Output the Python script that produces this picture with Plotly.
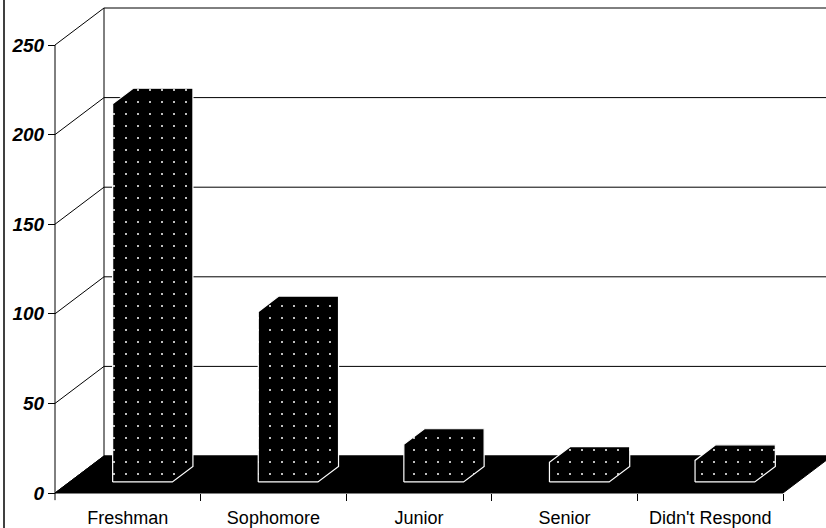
import plotly.graph_objects as go

# ---- data -------------------------------------------------------------
categories = ["Freshman", "Sophomore", "Junior", "Senior", "Didn't Respond"]
counts = [211, 95, 21, 11, 12]
y_ticks = [0, 50, 100, 150, 200, 250]

# ---- frame geometry (oblique 3-D projection) ---------------------------
W, H = 826, 528
PX_PER_CAT = 145.6      # horizontal pixels per category slot
PX_PER_UNIT = 1.792     # vertical pixels per count
X_LEFT_PX = 55          # front-left corner of the floor
Y_ZERO_PX = 493         # front baseline (count 0)
DEPTH_DX_PX, DEPTH_DY_PX = 49, 37

x_min = -0.5 - X_LEFT_PX / PX_PER_CAT
x_max = x_min + W / PX_PER_CAT
y_min = -(H - Y_ZERO_PX) / PX_PER_UNIT
y_max = Y_ZERO_PX / PX_PER_UNIT

DX = DEPTH_DX_PX / PX_PER_CAT     # full depth shift, category units
DY = DEPTH_DY_PX / PX_PER_UNIT    # full depth shift, count units

BAR_W = 0.41            # bar width as fraction of a slot
F_FRONT, F_BACK = 0.30, 0.72      # bar depth band within the floor

n = len(categories)
x_lo, x_hi = -0.5, n - 0.5
y_top = y_ticks[-1]

fig = go.Figure()

# back-wall gridlines, folding from the front axis onto the back wall
for v in y_ticks:
    fig.add_trace(go.Scatter(
        x=[x_lo, x_lo + DX, x_max + 1],
        y=[v, v + DY, v + DY],
        mode="lines", line=dict(color="black", width=1),
        hoverinfo="skip", showlegend=False))

# left-wall back edge and front value axis
fig.add_trace(go.Scatter(
    x=[x_lo + DX, x_lo + DX], y=[DY, y_top + DY],
    mode="lines", line=dict(color="black", width=1),
    hoverinfo="skip", showlegend=False))
fig.add_trace(go.Scatter(
    x=[x_lo, x_lo], y=[-4, y_top],
    mode="lines", line=dict(color="black", width=1),
    hoverinfo="skip", showlegend=False))

# floor
fig.add_trace(go.Scatter(
    x=[x_lo, x_hi, x_hi + DX, x_lo + DX, x_lo],
    y=[0, 0, DY, DY, 0],
    mode="lines", fill="toself", fillcolor="black",
    line=dict(color="black", width=1),
    hoverinfo="skip", showlegend=False))

# bars: front, side and top faces merged into one dotted silhouette
ddx = (F_BACK - F_FRONT) * DX
ddy = (F_BACK - F_FRONT) * DY
for i, (cat, val) in enumerate(zip(categories, counts)):
    xl = i - BAR_W / 2 + F_FRONT * DX
    xr = xl + BAR_W
    yb = F_FRONT * DY
    yt = yb + val
    fig.add_trace(go.Scatter(
        x=[xl, xr, xr + ddx, xr + ddx, xl + ddx, xl, xl],
        y=[yb, yb, yb + ddy, yt + ddy, yt + ddy, yt, yb],
        mode="lines", fill="toself", fillcolor="black",
        fillpattern=dict(shape=".", size=12, solidity=0.022,
                         bgcolor="black", fgcolor="white",
                         fillmode="replace"),
        line=dict(color="white", width=1.2),
        name=cat, hovertemplate=f"{cat}: {val}<extra></extra>",
        showlegend=False))

# outer frame edge on the left
fig.add_shape(type="line", xref="paper", yref="paper",
              x0=4 / W, x1=4 / W, y0=0, y1=1,
              line=dict(color="black", width=1.5))

fig.update_layout(
    width=W, height=H,
    margin=dict(l=0, r=0, t=0, b=0),
    paper_bgcolor="white", plot_bgcolor="white",
    showlegend=False,
    xaxis=dict(
        range=[x_min, x_max], domain=[0, 1],
        anchor="free", position=(H - Y_ZERO_PX) / H,
        tickmode="array", tickvals=list(range(n)), ticktext=categories,
        ticks="", ticklabelstandoff=12,
        showgrid=False, zeroline=False, showline=False,
        tickfont=dict(family="Liberation Sans, Arial", size=18, color="black"),
        minor=dict(tickmode="array",
                   tickvals=[i + 0.5 for i in range(n)],
                   ticks="outside", ticklen=7, tickcolor="black",
                   showgrid=False),
        fixedrange=True,
    ),
    yaxis=dict(
        range=[y_min, y_max], domain=[0, 1],
        anchor="free", position=X_LEFT_PX / W,
        tickmode="array", tickvals=y_ticks,
        ticks="outside", ticklen=7, tickcolor="black",
        showgrid=False, zeroline=False, showline=False,
        tickfont=dict(family="Liberation Sans, Arial", size=19,
                      color="black", weight="bold", style="italic"),
        fixedrange=True,
    ),
)

fig.write_html("out.html")
